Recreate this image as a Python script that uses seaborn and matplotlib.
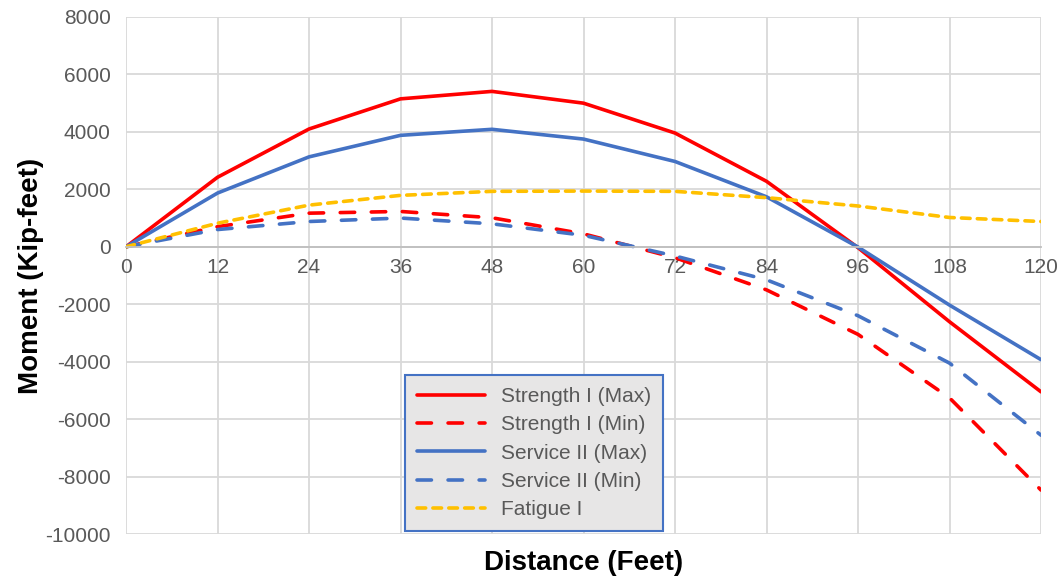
import pandas as pd
import matplotlib.pyplot as plt
import seaborn as sns

# Moment envelope values (kip-feet)
distance = [0, 12, 24, 36, 48, 60, 72, 84, 96, 108, 120]
strength_max = [0, 2420, 4100, 5150, 5410, 5000, 3960, 2280, -30, -2610, -5050]
strength_min = [0, 700, 1170, 1230, 1010, 450, -380, -1500, -3050, -5260, -8470]
service_max = [0, 1870, 3130, 3880, 4090, 3750, 2970, 1740, -10, -2030, -3930]
service_min = [0, 600, 880, 1000, 800, 400, -320, -1150, -2400, -4050, -6560]
fatigue = [0, 820, 1450, 1790, 1930, 1940, 1930, 1710, 1420, 1020, 880]

series = {
    "Strength I (Max)": strength_max,
    "Strength I (Min)": strength_min,
    "Service II (Max)": service_max,
    "Service II (Min)": service_min,
    "Fatigue I": fatigue,
}
colors = ["#ff0000", "#ff0000", "#4472c4", "#4472c4", "#ffc000"]
styles = ["-", (0, (4.0, 4.6)), "-", (0, (4.0, 4.6)), (0, (2.4, 2.0))]

sns.set_style("white")
plt.rcParams["font.family"] = ["Liberation Sans", "DejaVu Sans"]
plt.rcParams["axes.unicode_minus"] = False
plt.rcParams["lines.dash_capstyle"] = "round"
plt.rcParams["lines.solid_capstyle"] = "round"

fig = plt.figure(figsize=(10.64, 5.79), dpi=100)
ax = fig.add_axes([126 / 1064, 45 / 579, 915 / 1064, 517 / 579])

for (name, vals), c, ls in zip(series.items(), colors, styles):
    df = pd.DataFrame({"distance": distance, "moment": vals})
    sns.lineplot(data=df, x="distance", y="moment", color=c, linestyle=ls,
                 linewidth=2.6, label=name, ax=ax)

ax.set_xlim(0, 120)
ax.set_ylim(-10000, 8000)
ax.set_xticks(range(0, 121, 12))
ax.set_yticks(range(-10000, 8001, 2000))
ax.grid(True, color="#d9d9d9", linewidth=1.3)
ax.set_axisbelow(True)

for s in ["top", "right", "left"]:
    ax.spines[s].set_visible(False)
ax.spines["bottom"].set_position(("data", 0))
ax.spines["bottom"].set_color("#bfbfbf")
ax.spines["bottom"].set_linewidth(1.3)

ax.tick_params(axis="both", length=0, labelsize=15, labelcolor="#595959")
ax.tick_params(axis="x", pad=8)
ax.tick_params(axis="y", pad=11)

ax.set_xlabel("Distance (Feet)", fontsize=20, fontweight="bold", color="black")
ax.set_ylabel("Moment (Kip-feet)", fontsize=20, fontweight="bold", color="black")
ax.xaxis.set_label_coords(0.5, -0.03)
ax.yaxis.set_label_coords(-0.09, 0.5)

leg = ax.legend(loc="lower left", bbox_to_anchor=(0.305, 0.006), borderaxespad=0,
                fancybox=False, frameon=True, fontsize=15, handlelength=3.3,
                labelspacing=0.45, handletextpad=0.77, labelcolor="#595959",
                borderpad=0.55)
leg.get_frame().set_edgecolor("#4472c4")
leg.get_frame().set_facecolor("#e7e6e6")
leg.get_frame().set_alpha(1)
leg.get_frame().set_linewidth(1.5)

plt.savefig("out.png", dpi=100)
